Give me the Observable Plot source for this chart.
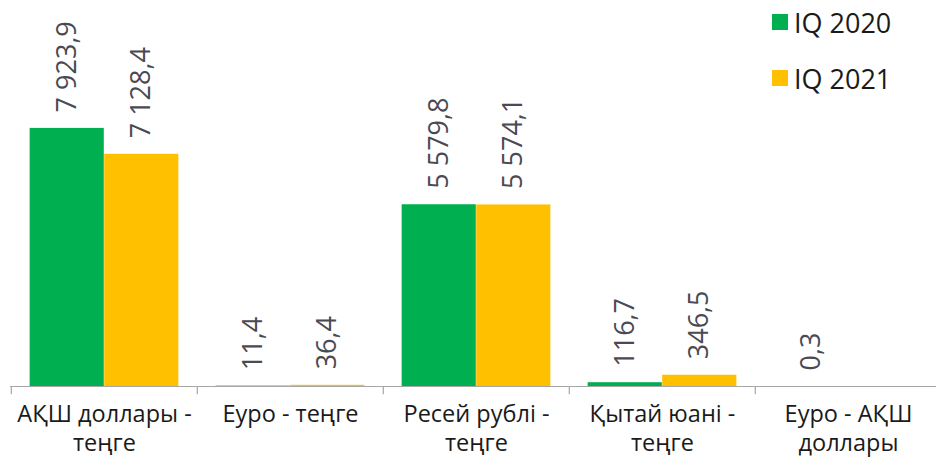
<!DOCTYPE html>
<html>
<head>
<meta charset="utf-8">
<script src="https://cdn.jsdelivr.net/npm/d3@7"></script>
<script src="https://cdn.jsdelivr.net/npm/@observablehq/plot@0.6"></script>
<style>
  body { margin: 0; background: #fff; }
  #wrap { position: relative; width: 936px; height: 458px; font-family: "Open Sans", sans-serif; }
  #legend { position: absolute; left: 772px; top: 4px; font-size: 27px; color: #1a1a1a; }
  #legend .item { display: flex; align-items: center; height: 36px; margin-bottom: 20px; }
  #legend .sw { width: 16px; height: 16px; margin-right: 6px; }
</style>
</head>
<body>
<div id="wrap"><div id="legend"></div></div>
<script>
const categories = ["АҚШ доллары - теңге", "Еуро - теңге", "Ресей рублі - теңге", "Қытай юані - теңге", "Еуро - АҚШ доллары"];
const tickLabels = ["АҚШ доллары -\nтеңге", "Еуро - теңге", "Ресей рублі -\nтеңге", "Қытай юані -\nтеңге", "Еуро - АҚШ\nдоллары"];
const series = ["IQ 2020", "IQ 2021"];
const values2020 = [7923.9, 11.4, 5579.8, 116.7, 0.3];
const values2021 = [7128.4, 36.4, 5574.1, 346.5, null];
const colors = ["#00b050", "#ffc000"];

const data = [];
categories.forEach((c, i) => {
  data.push({cat: c, series: series[0], value: values2020[i]});
  if (values2021[i] != null) data.push({cat: c, series: series[1], value: values2021[i]});
});

const fmt = d3.formatLocale({decimal: ",", thousands: " ", grouping: [3]}).format(",.1f");
const W = 936, H = 458;
const x0 = 10, x1 = 942;
const step = (x1 - x0) / categories.length;
const off = step * 0.2;

const d20 = data.filter(d => d.series === series[0]);
const d21 = data.filter(d => d.series === series[1]);

const plot = Plot.plot({
  width: W, height: H,
  marginLeft: 10, marginRight: 0, marginTop: 0, marginBottom: 72,
  style: {fontFamily: "Open Sans, sans-serif", background: "transparent"},
  x: {domain: categories, range: [x0, x1], padding: 0, axis: null},
  y: {domain: [0, 11850], axis: null},
  marks: [
    Plot.barY(d20, {x: "cat", y: "value", fill: colors[0], insetLeft: step * 0.1, insetRight: step * 0.5}),
    Plot.barY(d21, {x: "cat", y: "value", fill: colors[1], insetLeft: step * 0.5, insetRight: step * 0.1}),
    Plot.ruleY([0], {stroke: "#a6a6a6", strokeWidth: 1.2}),
    Plot.ruleX(categories, {x: d => d, y1: 0, y2: -250, dx: -step / 2, stroke: "#a6a6a6", strokeWidth: 1.2}),
    Plot.text(d20, {x: "cat", y: "value", text: d => fmt(d.value), rotate: -90, textAnchor: "start", dx: -off, dy: -16, fontSize: 27, fill: "#4a4a52"}),
    Plot.text(d21, {x: "cat", y: "value", text: d => fmt(d.value), rotate: -90, textAnchor: "start", dx: off, dy: -16, fontSize: 27, fill: "#4a4a52"}),
    Plot.text(categories, {x: d => d, y: 0, text: (d, i) => tickLabels[i], lineAnchor: "top", dy: 15, fontSize: 23.5, lineHeight: 1.24, fill: "#1a1a1a"})
  ]
});
document.getElementById("wrap").prepend(plot);

const legend = document.getElementById("legend");
series.forEach((s, i) => {
  const item = document.createElement("div");
  item.className = "item";
  item.innerHTML = `<span class="sw" style="background:${colors[i]}"></span><span>${s}</span>`;
  legend.appendChild(item);
});
</script>
</body>
</html>
